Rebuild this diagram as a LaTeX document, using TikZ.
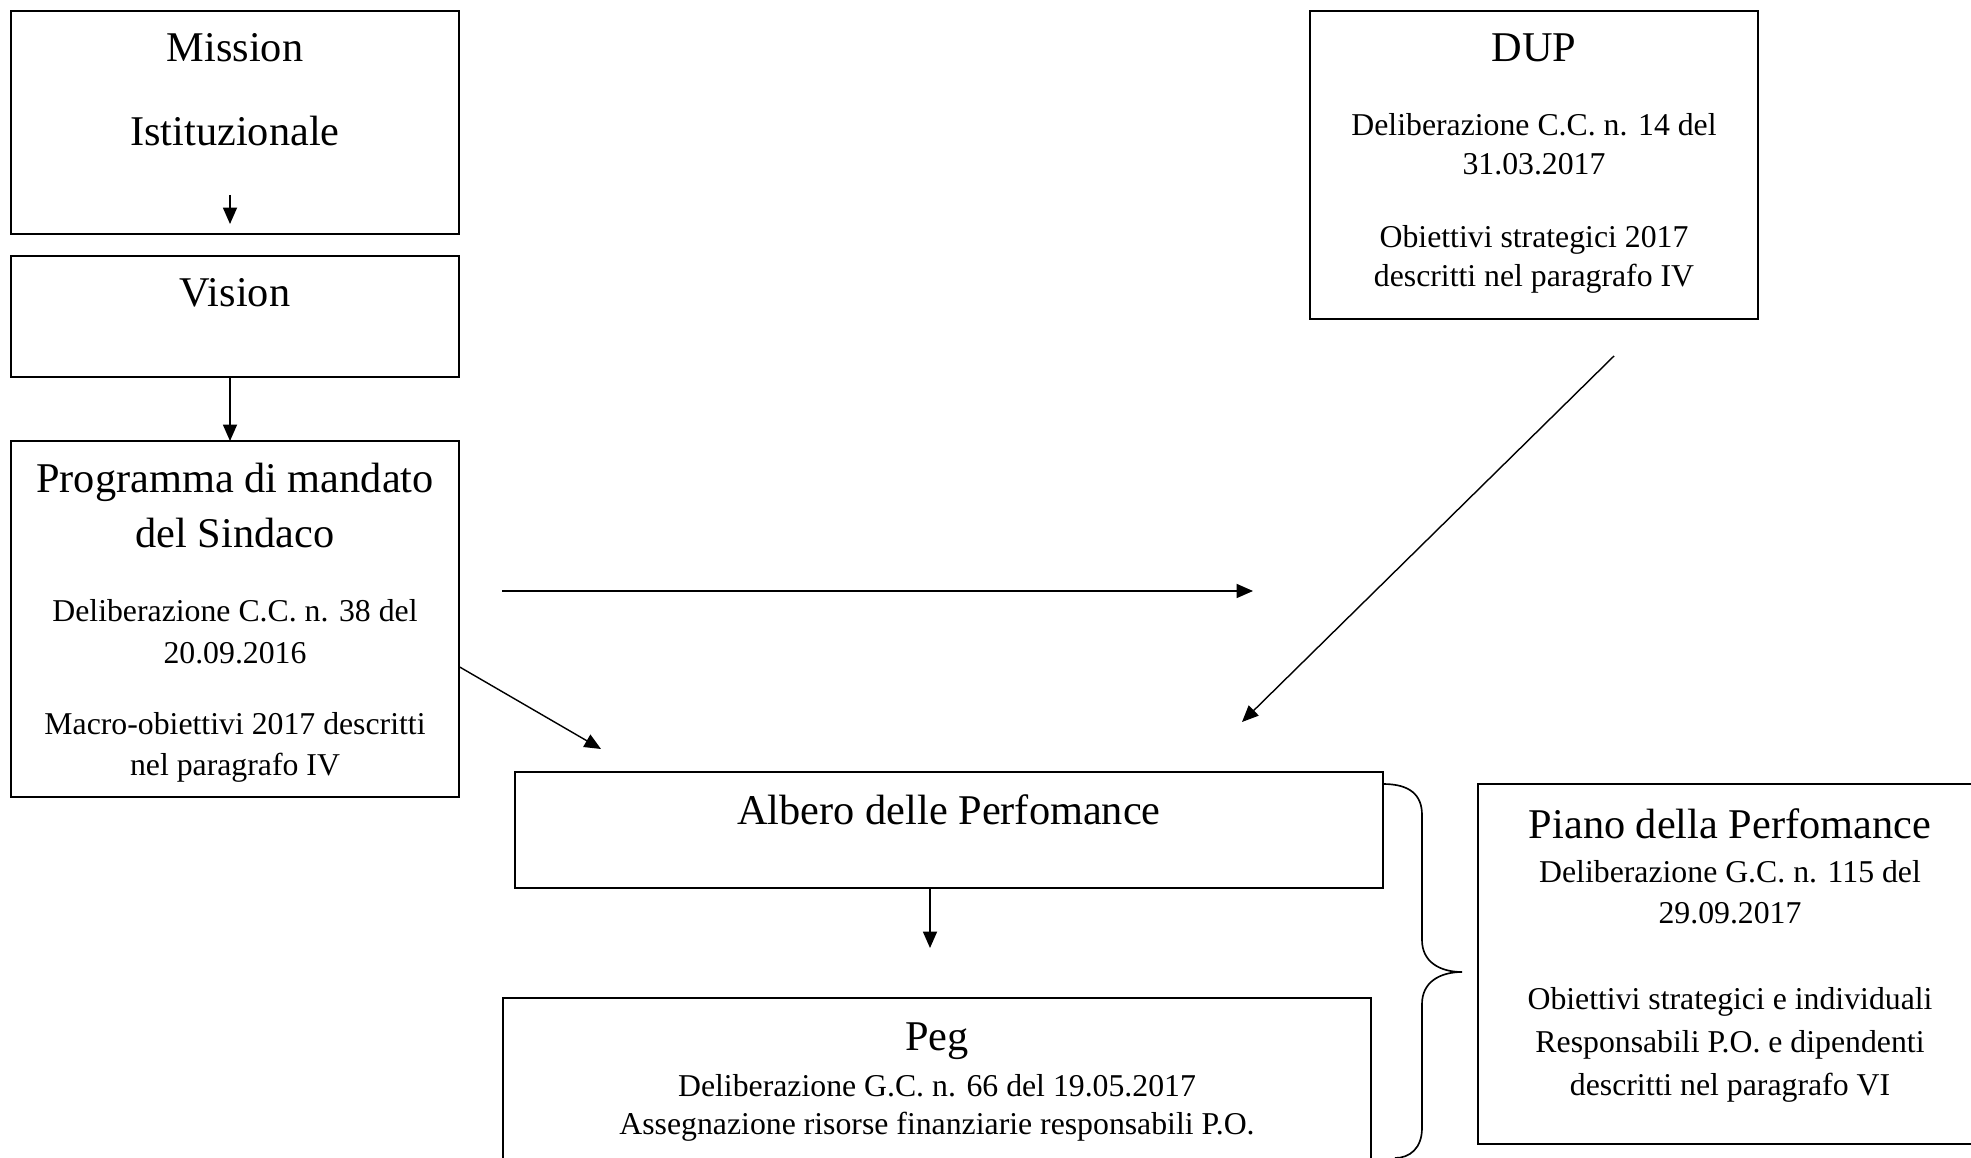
\documentclass[tikz,border=0pt]{standalone}
\usepackage{fontspec}
\setmainfont{Liberation Serif}
\usetikzlibrary{arrows.meta,fit}

\tikzset{
  box/.style={draw, line width=0.8pt, inner sep=0pt, outer sep=0pt},
  txt/.style={anchor=north, inner sep=0pt, align=center},
  head/.style={txt, font=\fontsize{18}{23.4}\selectfont},
  small/.style={txt, font=\fontsize{13.5}{17.4}\selectfont},
  arr/.style={-{Triangle[length=7pt,width=6pt]}, line width=0.6pt},
}

\begin{document}
\begin{tikzpicture}[x=0.425pt, y=-0.425pt]
  \clip (0,0) rectangle (1971,1158);
  \fill[white] (0,0) rectangle (1971,1158);

  % left column
  \node[box, fit={(11,11) (459,234)}] (mission) {};
  \node[head, font=\fontsize{18}{35.7}\selectfont] (mission-txt) at (235,33) {Mission\\Istituzionale};
  \node[box, fit={(11,256) (459,377)}] (vision) {};
  \node[head] (vision-txt) at (235,278) {Vision};
  \node[box, fit={(11,441) (459,797)}] (programma) {};
  \node[head] (prog-head) at (235,463) {Programma di mandato\\del Sindaco};
  \node[small, font=\fontsize{13.5}{17.8}\selectfont] (prog-del) at (235,599) {Deliberazione C.C. n. 38 del\\20.09.2016};
  \node[small] (prog-obj) at (235,712) {Macro-obiettivi 2017 descritti\\nel paragrafo IV};

  % DUP
  \node[box, fit={(1310,11) (1758,319)}] (dup) {};
  \node[head] (dup-head) at (1534,33) {DUP};
  \node[small, font=\fontsize{13.5}{16.6}\selectfont] (dup-del) at (1534,113) {Deliberazione C.C. n. 14 del\\31.03.2017};
  \node[small, font=\fontsize{13.5}{16.6}\selectfont] (dup-obj) at (1534,225) {Obiettivi strategici 2017\\descritti nel paragrafo IV};

  % albero and peg
  \node[box, fit={(515,772) (1383,888)}] (albero) {};
  \node[head] (albero-txt) at (949,794) {Albero delle Perfomance};
  \node[box, fit={(503,998) (1371,1185)}] (peg) {};
  \node[head] (peg-head) at (937,1022) {Peg};
  \node[small, font=\fontsize{13.5}{16.2}\selectfont] (peg-txt) at (937,1074) {Deliberazione G.C. n. 66 del 19.05.2017\\Assegnazione risorse finanziarie responsabili P.O.};

  % piano
  \node[box, fit={(1478,784) (1990,1144)}] (piano) {};
  \node[head] (piano-head) at (1730,808) {Piano della Perfomance};
  \node[small] (piano-del) at (1730,860) {Deliberazione G.C. n. 115 del\\29.09.2017};
  \node[small, font=\fontsize{13.5}{18.2}\selectfont] (piano-obj) at (1730,987) {Obiettivi strategici e individuali\\Responsabili P.O. e dipendenti\\descritti nel paragrafo VI};

  % arrows
  \coordinate (mis-a) at (230,195);
  \coordinate (mis-b) at (230,224);
  \coordinate (mid-a) at (502,591);
  \coordinate (mid-b) at (1253,591);
  \coordinate (albero-in) at (601,749);
  \coordinate (dup-out) at (1614,356);
  \coordinate (dup-in) at (1242,722);
  \coordinate (peg-in) at (930,948);

  \draw[arr] (mis-a) -- (mis-b);
  \draw[arr] (vision.south -| mis-a) -- (programma.north -| mis-a);
  \draw[arr] (mid-a) -- (mid-b);
  \draw[arr] (programma.-12) -- (albero-in);
  \draw[arr] (dup-out) -- (dup-in);
  \draw[arr] (albero.south -| peg-in) -- (peg-in);

  % brace
  \draw[line width=0.7pt] (1383,784) .. controls (1410,784) and (1422,795) .. (1422,815)
    -- (1422,940) .. controls (1422,962) and (1440,972) .. (1462,972)
    .. controls (1440,972) and (1422,982) .. (1422,1004)
    -- (1422,1128) .. controls (1422,1148) and (1410,1158) .. (1395,1158);
\end{tikzpicture}
\end{document}
